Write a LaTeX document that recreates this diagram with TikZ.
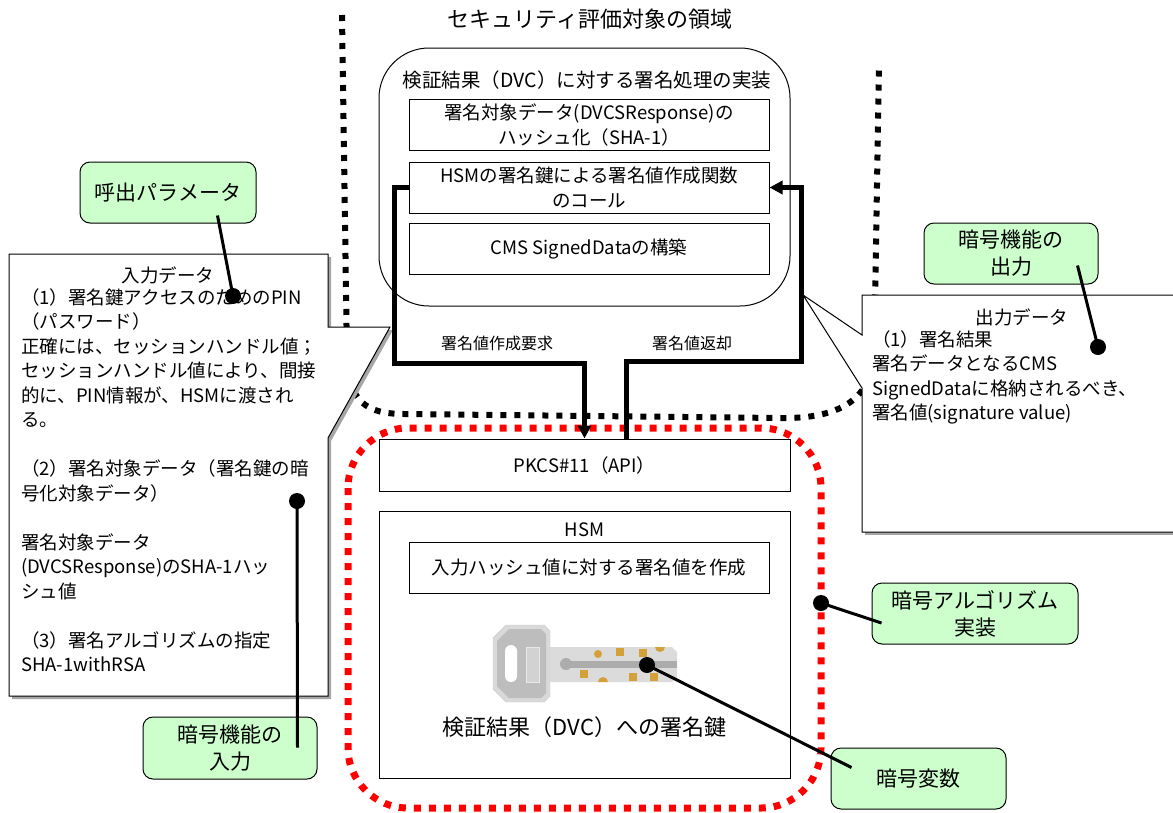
\documentclass[tikz,border=0pt]{standalone}
\usepackage{fontspec}
\setmainfont{Noto Sans CJK JP}
\usetikzlibrary{arrows.meta,calc}
\definecolor{callgreen}{HTML}{CCFFCC}
\definecolor{keygold}{HTML}{D4A03A}

\begin{document}
\begin{tikzpicture}[x=1pt,y=-1pt,
	txt/.style={font=\fontsize{18.5}{24.5}\selectfont},
	proc/.style={draw,line width=1pt,fill=white,minimum width=360pt,minimum height=51pt,align=center,inner sep=0pt,txt},
	layer/.style={draw,line width=1pt,fill=white,minimum width=411pt,inner sep=0pt},
	callout/.style={draw,line width=1pt,fill=callgreen,rounded corners=10pt,align=center,inner sep=0pt,font=\fontsize{21}{27}\selectfont},
	dot/.style={circle,fill,inner sep=0pt,minimum size=16pt},
	pointer/.style={line width=3pt},
	flow/.style={line width=5pt,-{Triangle[length=13pt,width=13pt]}},
	zone/.style={line width=6pt,dash pattern=on 6pt off 8pt},
	tag/.style={font=\fontsize{16}{20}\selectfont}]
	\useasboundingbox (0,0) rectangle (1173,812);

	% evaluation target boundary
	\draw[zone] (342,15) -- (347,360) .. controls (350,402) and (366,414) .. (405,414) -- (780,418) .. controls (842,419) and (868,398) .. (874,360) -- (879,68);
	\node[font=\fontsize{22}{26}\selectfont] (title) at (590,19) {セキュリティ評価対象の領域};

	% signing implementation
	\draw[line width=1pt,rounded corners=50pt] (379,48) rectangle (790,306);
	\node[font=\fontsize{19.5}{24}\selectfont] (impl) at (587,80) {検証結果（DVC）に対する署名処理の実装};
	\node[proc] (hash) at (589,125) {署名対象データ(DVCSResponse)の\\ハッシュ化（SHA-1）};
	\node[proc] (call) at (589,187.5) {HSMの署名鍵による署名値作成関数\\のコール};
	\node[proc] (cms) at (589,248.5) {CMS SignedDataの構築};

	% crypto module
	\draw[red,line width=7pt,dash pattern=on 7pt off 8pt,rounded corners=60pt] (348,428) rectangle (821,808);
	\node[layer,minimum height=52pt,txt] (pkcs) at (584.5,465) {PKCS\#11（API）};
	\node[layer,minimum height=267pt] (hsm) at (584.5,644.5) {};
	\node[txt] (hsmname) at (584.5,530) {HSM};
	\node[proc] (mksig) at (589,567.5) {入力ハッシュ値に対する署名値を作成};

	% signing key
	\fill[gray!30,draw=gray!40] (506,625) -- (544,625) -- (550,631) -- (550,696) -- (544,702) -- (506,702) -- (493,689) -- (493,638) -- cycle;
	\fill[gray!52] (509,629) -- (541,629) -- (546,634) -- (546,693) -- (541,698) -- (509,698) -- (497,686) -- (497,641) -- cycle;
	\fill[white,rounded corners=6pt] (505,645) rectangle (517,682);
	\fill[gray!35,draw=gray!18] (526,647) rectangle (539,682);
	\fill[gray!28] (550,647) -- (672,647) -- (677,652) -- (677,677) -- (672,682) -- (550,682) -- cycle;
	\draw[gray!65,line width=7pt] (566,664) -- (677,664);
	\fill[gray!65] (566,664) circle[radius=6];
	\fill[keygold] (598,654) circle[radius=4];
	\fill[keygold] (616,648) rectangle (624,656);
	\fill[keygold] (639,649) rectangle (647,657);
	\fill[keygold] (665,647) arc[start angle=0,end angle=180,radius=5] -- cycle;
	\fill[keygold] (580,670) rectangle (588,678);
	\fill[keygold] (598,682) arc[start angle=180,end angle=360,radius=5] -- cycle;
	\fill[keygold] (629,673) rectangle (637,681);
	\fill[keygold] (650,673) rectangle (658,681);
	\node[font=\fontsize{22}{26}\selectfont] (keyname) at (584.5,727) {検証結果（DVC）への署名鍵};

	% input data
	\fill[gray!70] (12,257) -- (331,257) -- (331,330) -- (393,330) -- (331,441) -- (331,699) -- (12,699) -- cycle;
	\draw[line width=1pt,fill=white] (9,254) -- (328,254) -- (328,327) -- (390,327) -- (328,438) -- (328,696) -- (9,696) -- cycle;
	\node[txt] (inhead) at (168,275) {入力データ};
	\node[txt,anchor=north west,align=left,inner sep=0pt] (indata) at (21,288) {（1）署名鍵アクセスのためのPIN\\（パスワード）\\正確には、セッションハンドル値；\\セッションハンドル値により、間接\\的に、PIN情報が、HSMに渡され\\る。\\[24.5pt]（2）署名対象データ（署名鍵の暗\\号化対象データ）\\[24.5pt]署名対象データ\\(DVCSResponse)のSHA-1ハッ\\シュ値\\[24.5pt]（3）署名アルゴリズムの指定\\SHA-1withRSA};

	% output data
	\fill[gray!70] (865,298) -- (1180,298) -- (1180,535) -- (865,535) -- cycle;
	\draw[line width=1pt,fill=white] (862,295) -- (1180,295) -- (1180,532) -- (862,532) -- (862,388) -- (803,295) -- (862,335) -- cycle;
	\node[txt] (outhead) at (1022,317) {出力データ};
	\node[txt,anchor=north west,align=left,inner sep=0pt] (outdata) at (872,330) {（1）署名結果\\署名データとなるCMS\\SignedDataに格納されるべき、\\署名値(signature value)};

	% signing request and result
	\coordinate (reqbend) at (394,363);
	\coordinate (retstart) at (626,439);
	\coordinate (retbend) at (801,361);
	\draw[flow] (call.west) -| (reqbend) -| (pkcs.north);
	\draw[flow] (retstart) |- (retbend) |- (call.east);
	\node[tag] (req) at (497,343) {署名値作成要求};
	\node[tag] (ret) at (692,343) {署名値返却};

	% annotations
	\node[callout,minimum width=176pt,minimum height=61pt] (param) at (168,192.5) {呼出パラメータ};
	\node[callout,minimum width=174pt,minimum height=61pt] (outfunc) at (1011,253.5) {暗号機能の\\出力};
	\node[callout,minimum width=174pt,minimum height=62pt] (infunc) at (230,748) {暗号機能の\\入力};
	\node[callout,minimum width=206pt,minimum height=61pt] (algo) at (975,613.5) {暗号アルゴリズム\\実装};
	\node[callout,minimum width=175pt,minimum height=61pt] (keyvar) at (918.5,778.5) {暗号変数};

	\node[dot] (pdot) at (233,296) {};
	\node[dot] (indot) at (297,501) {};
	\node[dot] (outdot) at (1098,347) {};
	\node[dot] (algdot) at (821,603) {};
	\node[dot] (keydot) at (647,665) {};

	\draw[pointer] ($(param.south east)+(-39,-8)$) -- (pdot.center);
	\draw[pointer] ($(infunc.north east)+(-20,31)$) -- (indot.center);
	\draw[pointer] ($(outfunc.south east)+(-21,-19)$) -- (outdot.center);
	\draw[pointer] ($(algo.west)+(10,9.5)$) -- (algdot.center);
	\draw[pointer] ($(keyvar.north west)+(21,20)$) -- (keydot.center);
\end{tikzpicture}
\end{document}
